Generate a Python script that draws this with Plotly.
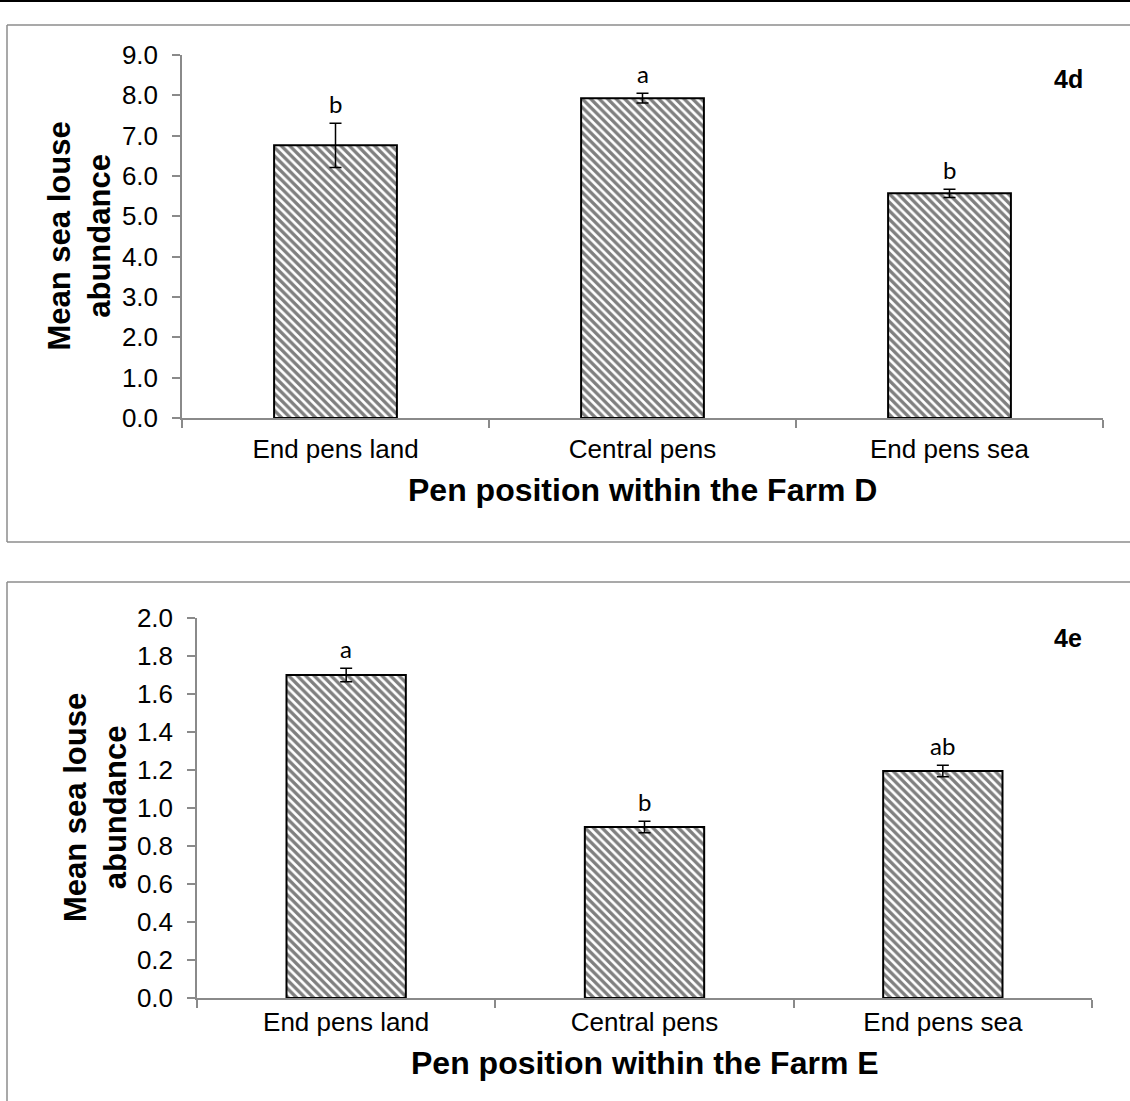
import plotly.graph_objects as go

# Pen positions along each farm
categories = ["End pens land", "Central pens", "End pens sea"]

# Farm D: mean sea louse abundance, standard error and significance groups
farm_d_mean = [6.76, 7.93, 5.57]
farm_d_err = [0.55, 0.12, 0.10]
farm_d_groups = ["b", "a", "b"]
farm_d_ticks = [0.0, 1.0, 2.0, 3.0, 4.0, 5.0, 6.0, 7.0, 8.0, 9.0]

# Farm E: mean sea louse abundance, standard error and significance groups
farm_e_mean = [1.70, 0.90, 1.195]
farm_e_err = [0.035, 0.03, 0.03]
farm_e_groups = ["a", "b", "ab"]
farm_e_ticks = [0.0, 0.2, 0.4, 0.6, 0.8, 1.0, 1.2, 1.4, 1.6, 1.8, 2.0]

W, H = 1130, 1101
AXIS_GREY = "#8a8a8a"
SANS = "Liberation Sans, Arial, sans-serif"


def px_x(p):
    return p / W


def px_y(p):
    return 1 - p / H


fig = go.Figure()


def add_panel(xa, ya, means, errs):
    fig.add_trace(go.Bar(
        x=categories, y=means, xaxis=xa, yaxis=ya, width=0.4,
        marker=dict(
            color="white",
            line=dict(color="black", width=2),
            pattern=dict(shape="\\", size=6, solidity=0.55,
                         fgcolor="black", bgcolor="white"),
        ),
        error_y=dict(type="data", array=errs, visible=True,
                     color="black", thickness=1.5, width=6),
        showlegend=False, hoverinfo="skip",
    ))


add_panel("x", "y", farm_d_mean, farm_d_err)
add_panel("x2", "y2", farm_e_mean, farm_e_err)

xaxis_style = dict(
    type="category", showline=True, linecolor=AXIS_GREY, linewidth=1.5,
    ticks="outside", ticklen=8, tickcolor=AXIS_GREY, tickwidth=1.5,
    tickson="boundaries", showgrid=False, zeroline=False, automargin=False,
    tickfont=dict(family=SANS, size=26, color="black"),
)
yaxis_style = dict(
    showline=True, linecolor=AXIS_GREY, linewidth=1.5,
    ticks="outside", ticklen=8, tickcolor=AXIS_GREY, tickwidth=1.5,
    showgrid=False, zeroline=False, tickformat=".1f", automargin=False,
    ticklabelstandoff=9,
    tickfont=dict(family=SANS, size=26, color="black"),
)

fig.update_layout(
    width=W, height=H,
    margin=dict(l=0, r=0, t=0, b=0, pad=0, autoexpand=False),
    paper_bgcolor="white", plot_bgcolor="white", bargap=0.6,
    showlegend=False,
    xaxis=dict(xaxis_style, domain=[px_x(182), px_x(1103)], anchor="y",
               ticklabelstandoff=7),
    yaxis=dict(yaxis_style, domain=[px_y(418), px_y(55)], anchor="x",
               range=[0, 9], tickvals=farm_d_ticks),
    xaxis2=dict(xaxis_style, domain=[px_x(197), px_x(1092)], anchor="y2"),
    yaxis2=dict(yaxis_style, domain=[px_y(998), px_y(618)], anchor="x2",
                range=[0, 2], tickvals=farm_e_ticks),
)

annotations = []

# Significance letters above the error bars
for xa, ya, means, errs, groups in [
    ("x", "y", farm_d_mean, farm_d_err, farm_d_groups),
    ("x2", "y2", farm_e_mean, farm_e_err, farm_e_groups),
]:
    for cat, m, e, g in zip(categories, means, errs, groups):
        annotations.append(dict(
            x=cat, y=m + e, xref=xa, yref=ya, text=g, showarrow=False,
            yanchor="bottom", yshift=3,
            font=dict(family="Lato, sans-serif", size=24, color="black"),
        ))

# Axis titles and panel tags
for cx, cy, xtitle, tag, tag_y in [
    (642.5, 490, "Pen position within the Farm D", "4d", 79),
    (644.5, 1063, "Pen position within the Farm E", "4e", 638),
]:
    annotations.append(dict(
        x=px_x(cx), y=px_y(cy), xref="paper", yref="paper",
        text=f"<b>{xtitle}</b>", showarrow=False,
        xanchor="center", yanchor="middle",
        font=dict(family=SANS, size=32, color="black"),
    ))
    annotations.append(dict(
        x=px_x(1068), y=px_y(tag_y), xref="paper", yref="paper",
        text=f"<b>{tag}</b>", showarrow=False,
        xanchor="center", yanchor="middle",
        font=dict(family=SANS, size=25, color="black"),
    ))

for ty_x, ty_y in [(79, 236.5), (95, 808)]:
    annotations.append(dict(
        x=px_x(ty_x), y=px_y(ty_y), xref="paper", yref="paper",
        text="<b>Mean sea louse<br>abundance</b>", showarrow=False,
        textangle=-90, xanchor="center", yanchor="middle",
        font=dict(family=SANS, size=31, color="black"),
    ))

fig.update_layout(annotations=annotations)

# Rule across the top and the frames around each panel
frame = dict(color="#8c8c8c", width=1.5)
shapes = [
    dict(type="line", xref="paper", yref="paper", x0=0, x1=1,
         y0=px_y(1), y1=px_y(1), line=dict(color="black", width=2)),
]
for top, bottom in [(25, 542), (582, 1110)]:
    shapes += [
        dict(type="line", xref="paper", yref="paper", x0=px_x(7), x1=px_x(1140),
             y0=px_y(top), y1=px_y(top), line=frame),
        dict(type="line", xref="paper", yref="paper", x0=px_x(7), x1=px_x(7),
             y0=px_y(top), y1=px_y(bottom), line=frame),
        dict(type="line", xref="paper", yref="paper", x0=px_x(7), x1=px_x(1140),
             y0=px_y(bottom), y1=px_y(bottom), line=frame),
    ]
fig.update_layout(shapes=shapes)

fig.write_html("out.html")
